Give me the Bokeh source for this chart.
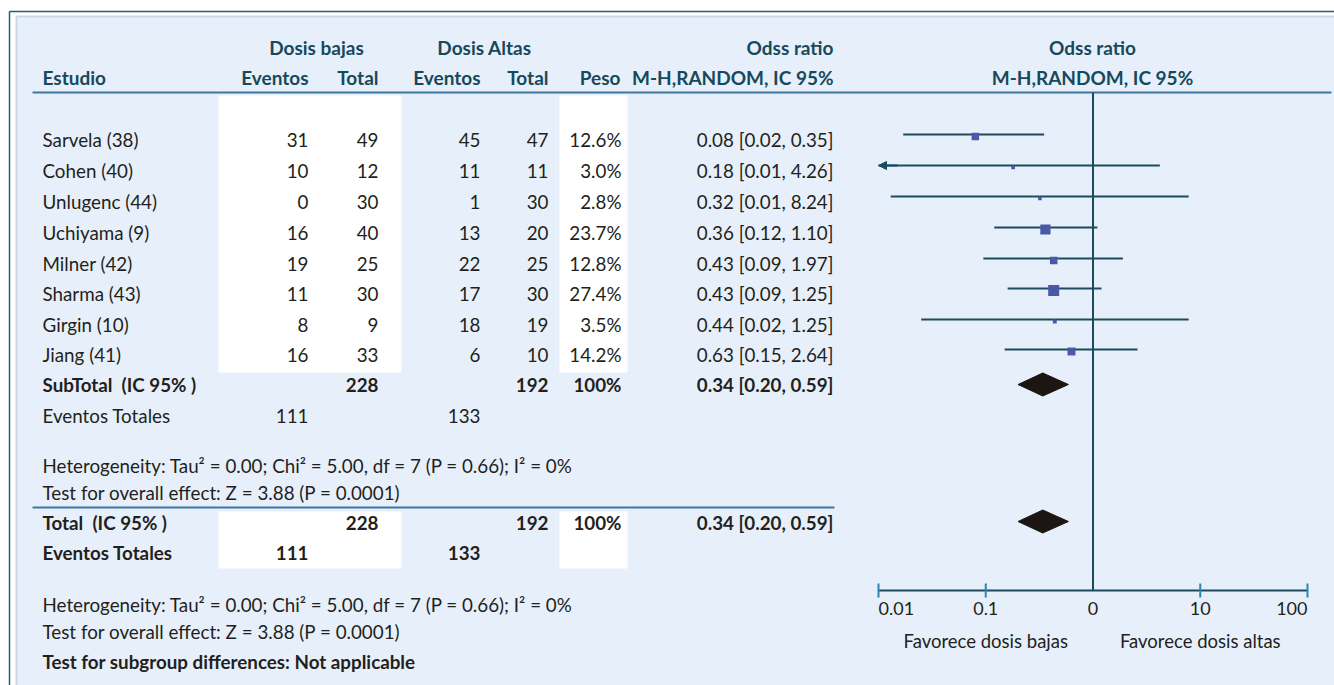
from bokeh.plotting import figure
from bokeh.models import Range1d, LogScale, Arrow, NormalHead
from bokeh.core.properties import value
from bokeh.embed import file_html
from bokeh.resources import INLINE

# ---------------- data ----------------
studies = ["Sarvela (38)", "Cohen (40)", "Unlugenc (44)", "Uchiyama (9)",
           "Milner (42)", "Sharma (43)", "Girgin (10)", "Jiang (41)"]
ev_low = [31, 10, 0, 16, 19, 11, 8, 16]
tot_low = [49, 12, 30, 40, 25, 30, 9, 33]
ev_high = [45, 11, 1, 13, 22, 17, 18, 6]
tot_high = [47, 11, 30, 20, 25, 30, 19, 10]
weight = [12.6, 3.0, 2.8, 23.7, 12.8, 27.4, 3.5, 14.2]
odds = [0.08, 0.18, 0.32, 0.36, 0.43, 0.43, 0.44, 0.63]
ci_low = [0.02, 0.01, 0.01, 0.12, 0.09, 0.09, 0.02, 0.15]
ci_high = [0.35, 4.26, 8.24, 1.10, 1.97, 1.25, 1.25, 2.64]
# whisker ends as drawn in the figure
drawn_low = [0.017, 0.01, 0.013, 0.12, 0.095, 0.16, 0.025, 0.15]
drawn_high = [0.35, 4.2, 7.8, 1.1, 1.9, 1.2, 7.8, 2.6]
clipped_left = [False, True, False, False, False, False, False, False]
pooled_or, pooled_low, pooled_high = 0.34, 0.20, 0.59
sum_tot_low, sum_tot_high = 228, 192
sum_ev_low, sum_ev_high = 111, 133
axis_ticks = [0.01, 0.1, 1, 10, 100]
axis_labels = ["0.01", "0.1", "0", "10", "100"]
het_text = "Heterogeneity: Tau\u00b2 = 0.00; Chi\u00b2 = 5.00, df = 7 (P = 0.66); I\u00b2 = 0%"
eff_text = "Test for overall effect: Z = 3.88 (P = 0.0001)"

# ---------------- layout constants ----------------
W, H = 1334, 685
FONT = value("Lato")
FS = "18.8px"
FSH = "19px"
HEAD = "#17495c"
TXT = "#231f20"
LINE = "#1d4b5e"
px_dec = 107.25
x0_log = 878

p = figure(width=W, height=H, output_backend="svg", toolbar_location=None,
           x_range=Range1d(0, W), y_range=Range1d(H, 0),
           x_axis_location=None, y_axis_location=None, min_border=0,
           background_fill_color="white", border_fill_color="white",
           outline_line_color=None)
p.grid.visible = False
p.extra_x_ranges = {"or": Range1d(10 ** (-2 - x0_log / px_dec), 10 ** (2 + (W - 1307) / px_dec))}
p.extra_x_scales = {"or": LogScale()}

# frame and panel
p.segment(x0=[9, 9], y0=[11, 11], x1=[W, 9], y1=[11, H], line_color="#1e5f7a", line_width=1.5)
p.quad(left=[16], right=[W + 2], top=[16], bottom=[H + 2], fill_color="#e7f0fa",
       line_color="#c9d7e6", line_width=2)
# white column bands
p.quad(left=[218, 559, 218, 559], right=[401, 627, 401, 627],
       top=[95, 95, 511, 511], bottom=[372, 372, 568, 568],
       fill_color="white", line_color=None)
# rules
p.segment(x0=[32, 32], y0=[92, 507], x1=[1331, 834], y1=[92, 507],
          line_color="#3d76a3", line_width=2)


def txt(x, y, t, align="left", bold=False, color=TXT, size=FS, rn=None):
    kw = dict(x=x, y=y, text=t, text_align=align, text_baseline="middle",
              text_font=FONT, text_font_size=size, text_color=color,
              text_font_style="bold" if bold else "normal")
    if rn:
        kw["x_range_name"] = rn
    p.text(**kw)


# headers
txt([316, 484], [47, 47], ["Dosis bajas", "Dosis Altas"], "center", True, HEAD, FSH)
txt([833], [47], ["Odss ratio"], "right", True, HEAD, FSH)
txt([42], [77], ["Estudio"], "left", True, HEAD, FSH)
txt([308, 378, 480, 548, 620, 833], [77] * 6,
    ["Eventos", "Total", "Eventos", "Total", "Peso", "M-H,RANDOM, IC 95%"], "right", True, HEAD, FSH)
txt([1092, 1092], [47, 77], ["Odss ratio", "M-H,RANDOM, IC 95%"], "center", True, HEAD, FSH)

# study rows
rows = [139, 170, 201, 232, 263, 293, 324, 354]
n = len(studies)
txt([42] * n, rows, studies)
txt([308] * n, rows, [str(v) for v in ev_low], "right")
txt([378] * n, rows, [str(v) for v in tot_low], "right")
txt([480] * n, rows, [str(v) for v in ev_high], "right")
txt([548] * n, rows, [str(v) for v in tot_high], "right")
txt([621] * n, rows, [f"{w:.1f}%" for w in weight], "right")
txt([833] * n, rows, [f"{o:.2f} [{l:.2f}, {h:.2f}]" for o, l, h in zip(odds, ci_low, ci_high)], "right")

pooled_lbl = f"{pooled_or:.2f} [{pooled_low:.2f}, {pooled_high:.2f}]"
# subtotal
txt([42], [384], ["SubTotal\u00a0\u00a0(IC 95%\u00a0)"], "left", True)
txt([378, 548, 621, 833], [384] * 4, [str(sum_tot_low), str(sum_tot_high), "100%", pooled_lbl], "right", True)
txt([42], [415], ["Eventos Totales"])
txt([308, 480], [415, 415], [str(sum_ev_low), str(sum_ev_high)], "right")
txt([42, 42], [465, 492], [het_text, eff_text])
# total
txt([42], [522], ["Total\u00a0\u00a0(IC 95%\u00a0)"], "left", True)
txt([378, 548, 621, 833], [522] * 4, [str(sum_tot_low), str(sum_tot_high), "100%", pooled_lbl], "right", True)
txt([42], [552], ["Eventos Totales"], "left", True)
txt([308, 480], [552, 552], [str(sum_ev_low), str(sum_ev_high)], "right", True)
txt([42, 42], [604, 631], [het_text, eff_text])
txt([42], [661], ["Test for subgroup differences: Not applicable"], "left", True)

# ---------------- forest plot ----------------
line_y = [r - 5 for r in rows]
p.segment(x0=[1, 0.01], y0=[92, 590], x1=[1, 100], y1=[590, 590],
          x_range_name="or", line_color=LINE, line_width=2)
p.segment(x0=drawn_low, y0=line_y, x1=drawn_high, y1=line_y, x_range_name="or",
          line_color=LINE, line_width=2)
for l, y, c in zip(drawn_low, line_y, clipped_left):
    if c:
        p.add_layout(Arrow(end=NormalHead(size=8, fill_color=LINE, line_color=LINE),
                           x_start=l * 1.5, y_start=y, x_end=l, y_end=y,
                           line_color=LINE, line_width=2, x_range_name="or"))
p.scatter(x=odds, y=[y + 2 for y in line_y], size=[2.1 * w ** 0.5 for w in weight],
          marker="square", fill_color="#4a58a8", line_color=None, x_range_name="or")

# pooled diamonds
for yc in (384, 521):
    p.patch(x=[pooled_low, pooled_or, pooled_high, pooled_or],
            y=[yc, yc - 11.5, yc, yc + 11.5], x_range_name="or",
            fill_color="#1b1612", line_color="#1b1612")

# axis ticks (skip tick at 1 where reference line sits)
tk = [t for t in axis_ticks if t != 1]
p.segment(x0=tk, y0=[583] * len(tk), x1=tk, y1=[597] * len(tk), x_range_name="or",
          line_color="#2a86b3", line_width=2)
aligns = ["left", "center", "center", "center", "right"]
for t, lab, a in zip(axis_ticks, axis_labels, aligns):
    txt([t], [608], [lab], a, False, TXT, "18px", "or")
txt([0.1, 10], [640, 640], ["Favorece dosis bajas", "Favorece dosis altas"], "center", False, TXT, "18.5px", "or")

open("out.html", "w").write(file_html(p, INLINE))
